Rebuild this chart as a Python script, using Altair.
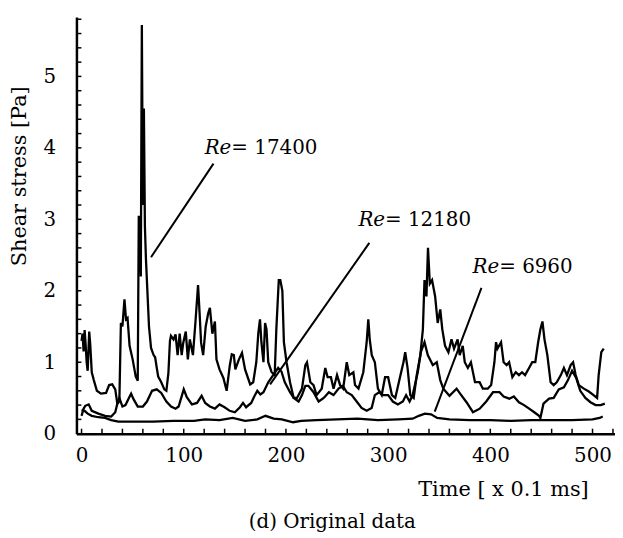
import altair as alt
import pandas as pd

# ---------------- data ----------------
t_17400 = [0, 1, 2, 3, 4, 5, 6, 7.5, 8.5, 10, 12, 15, 19, 24, 27, 30, 33, 35, 37, 38.5, 40, 42, 43.5, 45, 47, 50, 53, 55,
           56, 57, 58, 59, 60, 61, 62, 63, 64.5, 66, 68, 70.5, 72, 73.6, 75, 78, 81, 83, 85, 86.5, 87.5, 90, 92, 94, 96,
           98, 99.5, 102, 104, 106, 109, 111.5, 114, 115.5, 117, 119, 121.5, 124, 125.6, 128, 130.5, 132, 135, 138.8,
           142, 145, 147, 149, 150.5, 154, 157, 160, 165, 168, 171, 173, 174.6, 176, 178, 179.6, 181, 182.7, 186, 189,
           190.6, 193, 194.5, 196.5, 198, 200.6, 204, 207.6, 210.8, 215.7, 219, 220.6, 223.9, 227, 230, 235, 238.5,
           240.8, 244, 246.6, 250, 253, 256, 259.5, 262, 266, 267.6, 271, 275.7, 279, 280.6, 282, 284, 287, 290, 293.7,
           297, 300, 303.7, 307, 311.6, 315, 316.7, 319, 321.7, 325, 328, 331.5, 334, 335.6, 337.5, 339, 340.8, 343,
           346, 348.5, 351, 353, 355.7, 359, 362, 364.5, 368, 370, 373, 375, 378, 381, 385, 389.5, 392.7, 397.5, 400.8,
           404, 405.6, 407, 410.5, 413, 416, 418.4, 421.6, 424.9, 428, 431, 434, 437.9, 441, 444, 446.8, 449, 451, 453,
           455.8, 459, 462, 465, 469, 472, 475, 478.6, 481, 483.5, 486.6, 491.5, 496.4, 501, 504.5, 506, 508.6, 511]
v_17400 = [1.30, 1.40, 1.15, 1.45, 1.25, 1.00, 0.88, 1.43, 1.25, 0.86, 0.75, 0.60, 0.56, 0.57, 0.68, 0.69, 0.62, 0.42,
           0.45, 1.55, 1.50, 1.88, 1.60, 1.62, 1.23, 1.04, 0.80, 0.74,
           3.05, 2.90, 2.20, 5.72, 3.20, 4.55, 2.90, 2.45, 1.97, 1.50, 1.20, 1.10, 1.07, 0.92, 0.80, 0.72, 0.62, 0.60,
           0.85, 1.30, 1.37, 1.32, 1.39, 1.10, 1.40,
           1.10, 1.27, 1.43, 1.04, 1.32, 1.10, 1.57, 2.08, 1.69, 1.27, 1.10, 1.50, 1.69, 1.76, 1.40, 1.57, 1.04, 0.90,
           0.78, 0.60, 0.95, 1.11, 1.10, 0.90, 1.04, 1.13, 0.90, 0.69, 0.72, 1.00, 1.41, 1.60, 1.28, 1.00, 1.55, 1.46,
           1.00, 0.86, 0.82,
           1.46, 2.15, 2.15, 2.00, 1.28, 1.00, 0.72, 0.50, 0.50, 0.63, 0.96, 1.00, 0.72, 0.68, 0.54, 0.63, 0.92,
           0.79, 0.79, 0.63, 0.82, 0.68, 0.63, 1.00, 0.82, 0.86, 0.68, 0.63, 0.86, 1.28, 1.60, 1.32, 1.10, 1.00, 0.63,
           0.54,
           0.79, 0.79, 0.54, 0.50, 0.79, 1.00, 1.14, 0.92, 0.54, 0.50, 0.82, 1.10, 1.46, 2.15, 1.92, 2.60, 2.10, 2.15,
           1.92, 1.55, 1.74, 1.46, 1.23, 1.14, 1.32, 1.19, 1.32, 1.10, 1.23, 1.00, 0.92, 1.00, 0.72, 0.72, 0.63, 0.63,
           0.68,
           1.00, 1.28, 1.19, 1.28, 1.00, 0.96, 1.00, 0.79, 0.86, 0.82, 0.86, 0.82, 0.92, 1.00, 1.00, 1.28, 1.46, 1.57,
           1.32,
           1.10, 0.72, 0.68, 0.72, 0.82, 0.92, 0.82, 0.96, 1.00, 0.82, 0.68, 0.63, 0.59, 0.54, 0.50, 0.82, 1.14, 1.19]

t_12180 = [0, 2, 3.6, 7, 10, 16.5, 23, 29, 33, 35, 37, 40, 43, 46, 48.5, 51, 55, 60, 64, 69, 73.6, 78, 83, 87.6, 92,
           95, 100, 103, 108, 113, 117.5, 121, 125.6, 130.5, 135, 140, 145, 150, 155, 158, 161, 166, 169, 172, 175,
           178, 182.7, 187.5, 192.4, 195.6, 198.9, 204, 207.6, 212.4, 215.7, 219, 222, 227, 232, 237, 242, 246.6,
           251.5, 255.7, 259.5, 264.4, 269.2, 274, 279, 283.9, 287, 291.3, 295, 300, 304.6, 309.5, 314.4, 317.6, 321,
           324, 329, 332, 335.6, 338.8, 343.7, 347.6, 351, 354, 360, 367, 371, 376.7, 383, 389.6, 396, 402.6, 409,
           413, 418.6, 423, 428, 433, 438, 443, 447.7, 449, 452, 457.5, 462, 467, 472, 476, 480, 484, 488, 493, 498,
           503, 508, 512]
v_12180 = [0.25, 0.35, 0.39, 0.41, 0.32, 0.28, 0.25, 0.24, 0.30, 0.42, 0.50, 0.38, 0.40, 0.49, 0.56, 0.48, 0.38, 0.38,
           0.45, 0.60, 0.62, 0.57, 0.45, 0.38, 0.35,
           0.38, 0.62, 0.51, 0.41, 0.43, 0.53, 0.43, 0.38, 0.35, 0.41, 0.37, 0.32, 0.30, 0.37, 0.43, 0.37, 0.43, 0.52,
           0.60, 0.55,
           0.58, 0.72, 0.82, 0.92, 0.87, 0.72, 0.58, 0.50, 0.45, 0.54, 0.67, 0.67, 0.58, 0.45, 0.50, 0.58, 0.54,
           0.63, 0.67, 0.58, 0.54, 0.45, 0.36, 0.32, 0.36, 0.54, 0.58, 0.54, 0.54, 0.45, 0.41, 0.45, 0.54, 0.45,
           0.54, 0.86, 1.14, 1.28, 1.10, 0.96, 1.00, 0.75, 0.63, 0.53, 0.63, 0.55, 0.44, 0.30, 0.35, 0.45, 0.58, 0.58,
           0.52, 0.49, 0.52, 0.44, 0.40, 0.35, 0.30, 0.25, 0.22, 0.42, 0.49, 0.50, 0.62, 0.65, 0.75, 0.88, 0.78, 0.60,
           0.50, 0.44, 0.40, 0.40, 0.42]

t_6960 = [0, 3, 6, 10, 16.5, 23, 29, 36, 50, 70, 90, 110, 121, 135, 148, 160, 172, 180, 188, 196, 207, 215, 230, 250,
          270, 290, 310, 324, 330, 336, 342, 348, 360, 380, 400, 420, 440, 460, 480, 500, 507, 510]
v_6960 = [0.33, 0.32, 0.28, 0.25, 0.23, 0.22, 0.19, 0.17, 0.17, 0.17, 0.18, 0.18, 0.20, 0.19, 0.22, 0.18, 0.20, 0.25,
          0.21, 0.20, 0.16, 0.18, 0.19, 0.20, 0.21, 0.19, 0.20, 0.21, 0.25, 0.28, 0.27, 0.22, 0.20, 0.19, 0.19, 0.18,
          0.19, 0.19, 0.19, 0.20, 0.22, 0.24]

x_tick_labels = [0, 100, 200, 300, 400, 500]
y_tick_labels = [0, 1, 2, 3, 4, 5]
x_minor = list(range(0, 521, 20))
y_minor = [round(0.2 * i, 1) for i in range(0, 30)]

# annotations: label numbers, label anchor (data coords), leader start/end (data coords)
ann_text = ["= 17400", "= 12180", "= 6960"]
ann_x = [146.6, 297.0, 408.7]
ann_y = [4.00, 2.99, 2.33]
lead_x1 = [129.1, 281.6, 391.3]
lead_y1 = [3.78, 2.67, 2.04]
lead_x2 = [68.0, 184.5, 345.6]
lead_y2 = [2.47, 0.69, 0.31]

# ---------------- build tables ----------------
rows = []
for name, ts, vs in [("17400", t_17400, v_17400), ("12180", t_12180, v_12180), ("6960", t_6960, v_6960)]:
    for t, v in zip(ts, vs):
        rows.append({"series": name, "t": t, "v": v})
df = pd.DataFrame(rows)

ann = pd.DataFrame({"txt": ann_text, "x": ann_x, "y": ann_y, "re": ["Re"] * 3})
leads = pd.DataFrame({"x1": lead_x1, "y1": lead_y1, "x2": lead_x2, "y2": lead_y2})

W, H = 543, 420
FONT = "DejaVu Serif"
xs = alt.Scale(domain=[-5, 522], nice=False, zero=False)
ys = alt.Scale(domain=[0, 5.83], nice=False, zero=False)

x_axis = alt.Axis(values=x_tick_labels, ticks=False, grid=False, domainColor="black", domainWidth=2.5,
                  labelFont=FONT, labelFontSize=20, labelColor="black", labelPadding=12, labelFlush=False,
                  title="Time [ x 0.1 ms]", titleFont=FONT, titleFontSize=21, titleFontWeight="normal",
                  titleColor="black", titleX=516, titleY=56, titleAlign="right", titleBaseline="middle")
y_axis = alt.Axis(values=y_tick_labels, ticks=False, grid=False, domainColor="black", domainWidth=2.5,
                  labelFont=FONT, labelFontSize=20, labelColor="black", labelPadding=21,
                  title="Shear stress [Pa]", titleFont=FONT, titleFontSize=21, titleFontWeight="normal",
                  titleColor="black", titleX=-57, titleY=160, titleAngle=270, titleAlign="center",
                  titleBaseline="middle")

lines = alt.Chart(df).mark_line(color="black", strokeWidth=2.3).encode(
    x=alt.X("t:Q", scale=xs, axis=x_axis),
    y=alt.Y("v:Q", scale=ys, axis=y_axis),
    detail="series:N",
    order="t:Q",
)

xt = alt.Chart(pd.DataFrame({"t": x_minor})).mark_rule(color="black", strokeWidth=1.5).encode(
    x=alt.X("t:Q", scale=xs, axis=x_axis), y=alt.value(H), y2=alt.value(H - 5))
yt = alt.Chart(pd.DataFrame({"v": y_minor})).mark_rule(color="black", strokeWidth=1.5).encode(
    y=alt.Y("v:Q", scale=ys, axis=y_axis), x=alt.value(0), x2=alt.value(5))

lead = alt.Chart(leads).mark_rule(color="black", strokeWidth=2).encode(
    x=alt.X("x1:Q", scale=xs, axis=x_axis), y=alt.Y("y1:Q", scale=ys, axis=y_axis),
    x2="x2:Q", y2="y2:Q")

re_txt = alt.Chart(ann).mark_text(font=FONT, fontSize=20, fontStyle="italic", align="right",
                                  baseline="middle", color="black").encode(
    x=alt.X("x:Q", scale=xs, axis=x_axis), y=alt.Y("y:Q", scale=ys, axis=y_axis), text="re:N")
num_txt = alt.Chart(ann).mark_text(font=FONT, fontSize=20, align="left", baseline="middle",
                                   color="black").encode(
    x=alt.X("x:Q", scale=xs, axis=x_axis), y=alt.Y("y:Q", scale=ys, axis=y_axis), text="txt:N")

caption = alt.Chart(pd.DataFrame({"c": ["(d) Original data"]})).mark_text(
    font=FONT, fontSize=20, align="center", baseline="middle", color="black").encode(
    x=alt.value(258), y=alt.value(509), text="c:N")

chart = alt.layer(lines, xt, yt, lead, re_txt, num_txt, caption).properties(
    width=W, height=H,
    autosize=alt.AutoSizeParams(type="none"),
    padding={"left": 69, "top": 7, "right": 0, "bottom": 103},
    background="white",
).configure_view(stroke=None)

chart.save("out.html", embed_options={"renderer": "svg", "actions": False})
